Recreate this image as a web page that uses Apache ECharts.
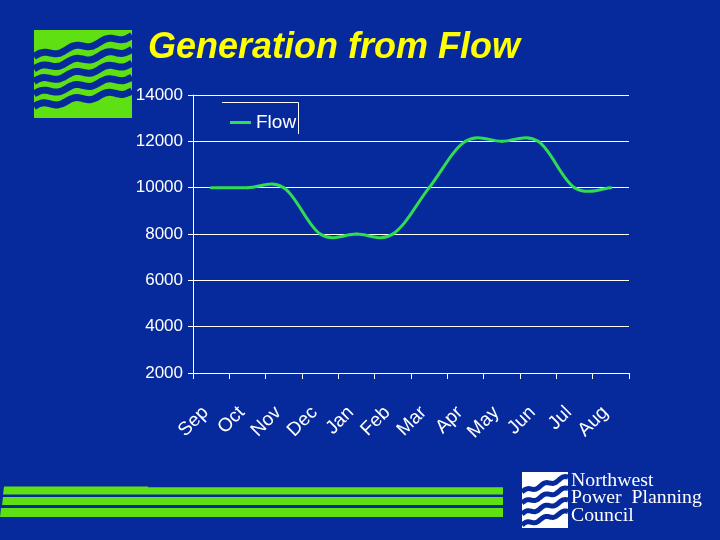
<!DOCTYPE html>
<html>
<head>
<meta charset="utf-8">
<script src="https://cdn.jsdelivr.net/npm/echarts@6/dist/echarts.min.js"></script>
<style>
html,body{margin:0;padding:0;background:#062a9c;}
#c{width:720px;height:540px;}
</style>
</head>
<body>
<div id="c"></div>
<script>
var categories = ['Sep','Oct','Nov','Dec','Jan','Feb','Mar','Apr','May','Jun','Jul','Aug'];
var flowValues = [10000,10000,10000,8000,8000,8000,10000,12000,12000,12000,10000,10000];
var yTicks = {min: 2000, max: 14000, interval: 2000};

var BG = '#062a9c';
var LIME = '#5ee012';
var LINE = '#2fdc52';
var TENSION = 0.18;

function wavePoints(x0, y0, x1, y1, amp, n) {
  var pts = [];
  var steps = 48;
  for (var k = 0; k <= steps; k++) {
    var t = k / steps;
    var x = x0 + (x1 - x0) * t;
    var y = y0 + (y1 - y0) * t - amp * Math.sin(2 * Math.PI * n * t);
    pts.push([x, y]);
  }
  return pts;
}

var graphics = [];
// top-left logo
graphics.push({type:'rect', shape:{x:34,y:30,width:98,height:88}, style:{fill:LIME}, silent:true});
for (var i = 0; i < 5; i++) {
  graphics.push({type:'polyline', shape:{points: wavePoints(34, 56.5 + 12.5*i, 132, 35.5 + 13.8*i, 2.2, 3), smooth:0.3},
    style:{stroke:BG, lineWidth:7, fill:null}, silent:true});
}
// bottom bars
graphics.push({type:'polygon', shape:{points:[[4,486.5],[148,486.5],[148,487.3],[503,487.3],[503,494.5],[3,494.5]]}, style:{fill:LIME}, silent:true});
graphics.push({type:'polygon', shape:{points:[[3,497],[503,497],[503,505],[2,505]]}, style:{fill:LIME}, silent:true});
graphics.push({type:'polygon', shape:{points:[[1,508],[503,508],[503,517],[0,517]]}, style:{fill:LIME}, silent:true});
// bottom-right logo
graphics.push({type:'rect', shape:{x:522,y:472,width:46,height:56}, style:{fill:'#ffffff'}, silent:true});
for (var j = 0; j < 4; j++) {
  graphics.push({type:'polyline', shape:{points: wavePoints(522, 492 + 11*j, 568, 477 + 11.5*j, 1.6, 2.5), smooth:0.3},
    style:{stroke:BG, lineWidth:5, fill:null}, silent:true});
}
var logoLines = ['Northwest', 'Power  Planning', 'Council'];
for (var m = 0; m < logoLines.length; m++) {
  graphics.push({type:'text', x:571, y:472 + 17.5*m, scaleX:1.1, scaleY:1, silent:true,
    style:{text: logoLines[m], font:'18px "Liberation Serif", "DejaVu Serif", serif', fill:'#ffffff', verticalAlign:'top'}});
}
// legend box border (top and right)
graphics.push({type:'line', shape:{x1:222,y1:102.5,x2:298.5,y2:102.5}, style:{stroke:'#ffffff', lineWidth:1}, silent:true});
graphics.push({type:'line', shape:{x1:298.5,y1:102.5,x2:298.5,y2:134}, style:{stroke:'#ffffff', lineWidth:1}, silent:true});

var seriesData = flowValues.map(function (v, k) { return [k, v]; });

function renderFlow(params, api) {
  var n = flowValues.length;
  var k = params.dataIndex;
  if (k >= n - 1) { return {type:'group', children:[]}; }
  function pt(idx) {
    idx = Math.max(0, Math.min(n - 1, idx));
    return api.coord([idx, flowValues[idx]]);
  }
  var p0 = pt(k - 1), p1 = pt(k), p2 = pt(k + 1), p3 = pt(k + 2);
  var c1x = p1[0] + (p2[0] - p0[0]) * TENSION;
  var c1y = p1[1] + (p2[1] - p0[1]) * TENSION;
  var c2x = p2[0] - (p3[0] - p1[0]) * TENSION;
  var c2y = p2[1] - (p3[1] - p1[1]) * TENSION;
  var d = 'M' + p1[0] + ' ' + p1[1] + ' C' + c1x + ' ' + c1y + ' ' + c2x + ' ' + c2y + ' ' + p2[0] + ' ' + p2[1];
  return {
    type: 'path',
    shape: {pathData: d},
    style: {fill: 'none', stroke: LINE, lineWidth: 3, lineCap: 'round'}
  };
}

var chart = echarts.init(document.getElementById('c'), null, {renderer:'canvas'});
chart.setOption({
  backgroundColor: BG,
  animation: false,
  title: {
    text: 'Generation from Flow',
    left: 143, top: 25,
    textStyle: {color:'#ffff00', fontSize:36, fontWeight:'bold', fontStyle:'italic', fontFamily:'"Liberation Sans", Arial, sans-serif'}
  },
  legend: {
    data: [{name:'Flow', icon:'rect', itemStyle:{color:LINE}}],
    left: 225, top: 108,
    itemWidth: 21, itemHeight: 3,
    textStyle: {color:'#ffffff', fontSize:19, fontFamily:'"Liberation Sans", Arial, sans-serif'}
  },
  grid: {left:193, right:91, top:95, bottom:167, containLabel:false},
  xAxis: {
    type: 'category',
    data: categories,
    boundaryGap: true,
    axisLine: {lineStyle:{color:'#ffffff', width:1}},
    axisTick: {show:true, length:6, lineStyle:{color:'#ffffff'}},
    axisLabel: {interval:0, rotate:45, margin:31, padding:[0,8,0,0], color:'#ffffff', fontSize:19, fontFamily:'"Liberation Sans", Arial, sans-serif'},
    splitLine: {show:false}
  },
  yAxis: {
    type: 'value',
    min: yTicks.min, max: yTicks.max, interval: yTicks.interval,
    axisLine: {show:true, lineStyle:{color:'#ffffff', width:1}},
    axisTick: {show:true, length:5, lineStyle:{color:'#ffffff'}},
    axisLabel: {margin:10, color:'#ffffff', fontSize:17, fontFamily:'"Liberation Sans", Arial, sans-serif',
      formatter: function (v) { return String(v); }},
    splitLine: {show:true, lineStyle:{color:'#ffffff', width:1}}
  },
  series: [{
    name: 'Flow',
    type: 'custom',
    data: seriesData,
    encode: {x: 0, y: 1},
    renderItem: renderFlow,
    itemStyle: {color: LINE}
  }],
  graphic: graphics
});
</script>
</body>
</html>
